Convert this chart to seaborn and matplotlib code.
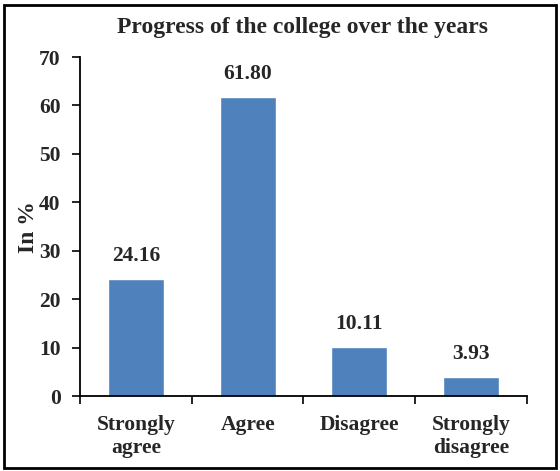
import numpy as np
import pandas as pd
import matplotlib
matplotlib.use("Agg")
import matplotlib.pyplot as plt
import seaborn as sns
from matplotlib.patches import Rectangle

# Данные
categories = ["Strongly\nagree", "Agree", "Disagree", "Strongly\ndisagree"]
values = [24.16, 61.80, 10.11, 3.93]
y_ticks = [0, 10, 20, 30, 40, 50, 60, 70]

df = pd.DataFrame({"response": categories, "percent": values})

sns.set_theme(style="white")
plt.rcParams["font.family"] = ["Liberation Serif", "DejaVu Serif"]
plt.rcParams["font.weight"] = "bold"

fig = plt.figure(figsize=(5.6, 4.71), dpi=100)
ax = fig.add_axes([0.1429, 0.1592, 0.7981, 0.7197])

sns.barplot(data=df, x="response", y="percent", color="#4F81BD",
            saturation=1, width=0.5, ax=ax)

# подписи значений
for i, v in enumerate(values):
    ax.text(i, v + 2.6, f"{v:.2f}", ha="center", va="bottom",
            fontsize=15.5, fontweight="bold")

ax.set_ylim(0, 70)
ax.set_xlim(-0.5, len(categories) - 0.5)
ax.set_yticks(y_ticks)
ax.set_yticklabels([str(t) for t in y_ticks], fontsize=15.5, fontweight="bold")
ax.set_xticklabels(categories, fontsize=15.5, fontweight="bold", linespacing=1.2)

# деления по границам категорий
ax.set_xticks(np.arange(-0.5, len(categories)), minor=True)
ax.tick_params(axis="x", which="major", length=0, pad=14)
ax.tick_params(axis="x", which="minor", length=6, width=1.2, color="black",
               direction="out", bottom=True)
ax.tick_params(axis="y", length=6, width=1.2, color="black",
               direction="out", left=True, pad=8)

for side in ["top", "right"]:
    ax.spines[side].set_visible(False)
for side in ["left", "bottom"]:
    ax.spines[side].set_color("black")
    ax.spines[side].set_linewidth(1.3)

ax.set_xlabel("")
ax.set_ylabel("")
fig.text(0.05, 0.518, "In %", rotation=90, ha="center", va="center",
         fontsize=17, fontweight="bold")
fig.text(0.54, 0.942, "Progress of the college over the years", ha="center",
         va="center", fontsize=17, fontweight="bold")

# рамка вокруг рисунка
fig.patches.append(Rectangle((0.008, 0.006), 0.984, 0.984, transform=fig.transFigure,
                             fill=False, edgecolor="black", linewidth=2))

fig.savefig("out.png", dpi=100)
